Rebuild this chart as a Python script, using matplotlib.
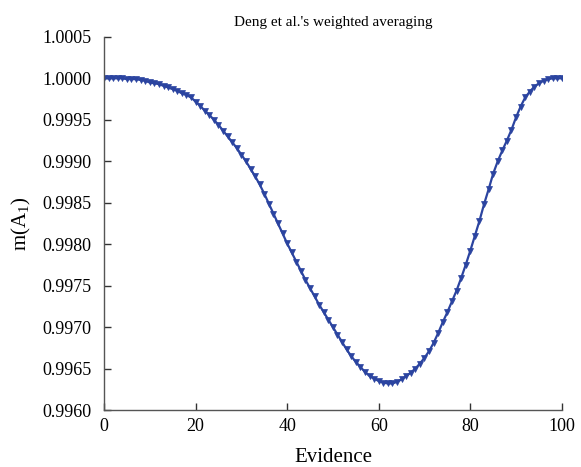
# Deng et al.'s weighted averaging - m(A1) vs evidence

import numpy as np
import matplotlib
matplotlib.use("Agg")
import matplotlib.pyplot as plt
from matplotlib.ticker import FormatStrFormatter

# =====================================================
# Data
# =====================================================

evidence = list(range(0, 101))

m_a1 = [
    1.00000, 1.00000, 1.00000, 1.00000, 1.00000,
    0.99999, 0.99999, 0.99999, 0.99998, 0.99997,
    0.99995, 0.99994, 0.99993, 0.99991, 0.99989,
    0.99987, 0.99985, 0.99982, 0.99980, 0.99977,
    0.99972, 0.99967, 0.99961, 0.99956, 0.99950,
    0.99944, 0.99937, 0.99930, 0.99923, 0.99916,
    0.99908, 0.99900, 0.99891, 0.99882, 0.99872,
    0.99861, 0.99849, 0.99837, 0.99825, 0.99813,
    0.99801, 0.99790, 0.99779, 0.99768, 0.99757,
    0.99747, 0.99737, 0.99727, 0.99718, 0.99709,
    0.99700, 0.99691, 0.99682, 0.99673, 0.99665,
    0.99658, 0.99652, 0.99646, 0.99641, 0.99638,
    0.99635, 0.99633, 0.99632, 0.99632, 0.99634,
    0.99637, 0.99641, 0.99645, 0.99650, 0.99656,
    0.99663, 0.99671, 0.99681, 0.99693, 0.99706,
    0.99718, 0.99731, 0.99744, 0.99759, 0.99775,
    0.99792, 0.99810, 0.99828, 0.99848, 0.99866,
    0.99885, 0.99900, 0.99913, 0.99925, 0.99938,
    0.99953, 0.99966, 0.99977, 0.99984, 0.99990,
    0.99994, 0.99997, 0.99999, 1.00000, 1.00000,
    1.00000,
]

x_ticks = [0, 20, 40, 60, 80, 100]
y_ticks = [0.9960, 0.9965, 0.9970, 0.9975, 0.9980, 0.9985,
           0.9990, 0.9995, 1.0000, 1.0005]

# =====================================================
# Plot
# =====================================================

plt.rcParams["font.family"] = ["Liberation Serif", "DejaVu Serif"]
plt.rcParams["mathtext.fontset"] = "custom"
plt.rcParams["mathtext.rm"] = "Liberation Serif"
plt.rcParams["mathtext.it"] = "Liberation Serif"

fig = plt.figure(figsize=(5.81, 4.67), dpi=100)
ax = fig.add_axes([0.179, 0.122, 0.788, 0.799])

ax.plot(
    evidence,
    m_a1,
    color="#2b44a0",
    linewidth=1.6,
    marker="v",
    markersize=4.5,
    markerfacecolor="#2b44a0",
    markeredgecolor="#2b44a0",
    markeredgewidth=0.5,
)

ax.set_xlim(0, 100)
ax.set_ylim(0.9960, 1.0005)
ax.set_xticks(x_ticks)
ax.set_yticks(y_ticks)
ax.yaxis.set_major_formatter(FormatStrFormatter("%.4f"))

for side in ["top", "right"]:
    ax.spines[side].set_visible(False)
for side in ["left", "bottom"]:
    ax.spines[side].set_color("#555555")
    ax.spines[side].set_linewidth(1.0)

ax.tick_params(direction="in", length=5, width=1.0, colors="#333333",
               labelsize=13, labelcolor="black")
ax.tick_params(axis="y", pad=9)
ax.tick_params(axis="x", pad=6)

ax.set_title("Deng et al.'s weighted averaging", fontsize=11, pad=8)
ax.set_xlabel("Evidence", fontsize=15, labelpad=9)
ax.set_ylabel("m(A$_1$)", fontsize=15, labelpad=7)

fig.savefig("out.png", dpi=100)
plt.close(fig)
